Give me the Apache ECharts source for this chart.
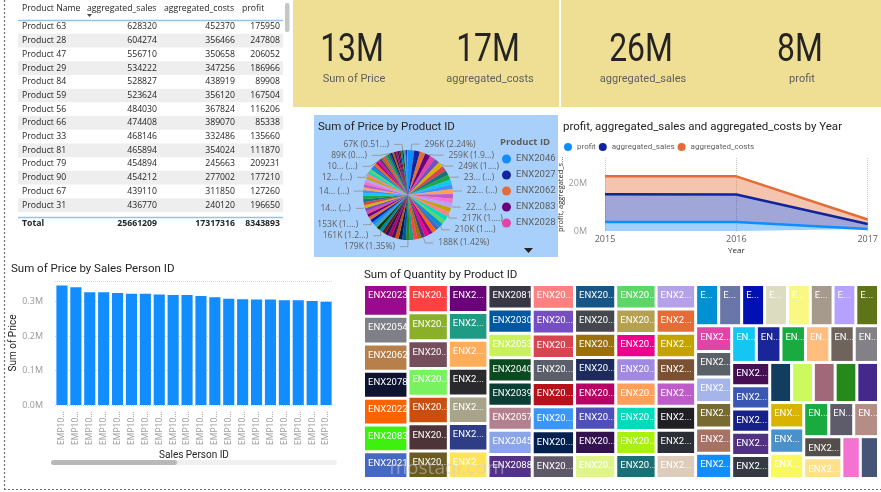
<!DOCTYPE html>
<html>
<head>
<meta charset="utf-8">
<script src="https://cdn.jsdelivr.net/npm/echarts/dist/echarts.min.js"></script>
<style>
html, body { margin: 0; padding: 0; background: #fff; }
#main { width: 881px; height: 492px; }
</style>
</head>
<body>
<div id="main"></div>
<script>
// ---- data ----
const tableHeader = ['Product Name', 'aggregated_sales', 'aggregated_costs', 'profit'];
const tableNames = ['Product 63', 'Product 28', 'Product 47', 'Product 29', 'Product 84', 'Product 59', 'Product 56',
  'Product 66', 'Product 33', 'Product 81', 'Product 79', 'Product 90', 'Product 67', 'Product 31', 'Product 45'];
const tableSales = [628320, 604274, 556710, 534222, 528827, 523624, 484030, 474408, 468146, 465894, 454894, 454212, 439110, 436770, 433640];
const tableCosts = [452370, 356466, 350658, 347256, 438919, 356120, 367824, 389070, 332486, 354024, 245663, 277002, 311850, 240120, 290864];
const tableProfit = [175950, 247808, 206052, 186966, 89908, 167504, 116206, 85338, 135660, 111870, 209231, 177210, 127260, 196650, 142776];
const tableTotal = ['Total', 25661209, 17317316, 8343893];

const kpiValues = ['13M', '17M', '26M', '8M'];
const kpiLabels = ['Sum of Price', 'aggregated_costs', 'aggregated_sales', 'profit'];

const pieNames = ['ENX2046', 'ENX2027', 'ENX2062', 'ENX2083', 'ENX2028', 'ENX2011', 'ENX2090', 'ENX2034', 'ENX2005', 'ENX2071',
  'ENX2018', 'ENX2059', 'ENX2042', 'ENX2003', 'ENX2066', 'ENX2023', 'ENX2095', 'ENX2050', 'ENX2008', 'ENX2077',
  'ENX2031', 'ENX2014', 'ENX2088', 'ENX2054', 'ENX2039', 'ENX2061', 'ENX2000', 'ENX2025', 'ENX2072', 'ENX2044',
  'ENX2016', 'ENX2081', 'ENX2036', 'ENX2069', 'ENX2002', 'ENX2093', 'ENX2057', 'ENX2021', 'ENX2048', 'ENX2010',
  'ENX2085', 'ENX2030', 'ENX2064', 'ENX2007', 'ENX2098', 'ENX2040', 'ENX2019', 'ENX2075', 'ENX2052', 'ENX2001',
  'ENX2086', 'ENX2033', 'ENX2063', 'ENX2012', 'ENX2079', 'ENX2045', 'ENX2026', 'ENX2092', 'ENX2009', 'ENX2068',
  'ENX2037', 'ENX2053', 'ENX2015', 'ENX2099', 'ENX2041', 'ENX2004', 'ENX2074', 'ENX2022', 'ENX2058', 'ENX2029',
  'ENX2096', 'ENX2047', 'ENX2013', 'ENX2067', 'ENX2035', 'ENX2080', 'ENX2006', 'ENX2055', 'ENX2089', 'ENX2020',
  'ENX2078', 'ENX2043', 'ENX2100'];
// Sum of Price per product, in thousands
const piePriceK = [296, 272, 262, 259, 255, 252, 249, 244, 240, 235, 232, 229, 226, 224, 222, 220, 219, 217, 215, 213,
  210, 205, 200, 196, 192, 188, 185, 183, 181, 179, 178, 176, 173, 170, 168, 167, 164, 161, 159, 157,
  155, 153, 151, 150, 149, 148, 147, 145, 144, 143, 142, 141, 139, 138, 135, 132, 130, 128, 127, 125,
  122, 119, 116, 113, 110, 107, 104, 101, 98, 95, 92, 89, 86, 83, 80, 77, 76, 72, 67, 62,
  56, 50, 44];
// data labels as Power BI shows them (truncated)
const pieLabelText = {
  0: '296K (2.24%)', 3: '259K (1.9...)', 6: '249K (1....)', 9: '23... (...)', 12: '22... (...)',
  15: '22... (...)', 17: '217K (1....)', 20: '210K (1....)', 25: '188K (1.42%)', 29: '179K (1.35%)',
  37: '161K (1.2...)', 41: '153K (1....)', 46: '14... (...)', 51: '14... (...)', 59: '12... (...)',
  66: '10... (...)', 71: '89K (0....)', 78: '67K (0.51...)'
};

const years = ['2015', '2016', '2017'];
const profitByYear = [3.8e6, 3.8e6, 0.8e6];
const salesByYear = [11.8e6, 11.7e6, 2.2e6];
const costsByYear = [7.6e6, 7.7e6, 1.9e6];

const salesPersons = ['EMP1015', 'EMP1007', 'EMP1019', 'EMP1003', 'EMP1011', 'EMP1001', 'EMP1016', 'EMP1009', 'EMP1012', 'EMP1005',
  'EMP1018', 'EMP1002', 'EMP1014', 'EMP1020', 'EMP1006', 'EMP1010', 'EMP1004', 'EMP1017', 'EMP1008', 'EMP1013'];
const priceBySalesPerson = [346800, 342000, 327000, 327000, 325000, 323000, 323000, 321000, 319500, 319500,
  316600, 312700, 308800, 307000, 306000, 306000, 304000, 304000, 302000, 300000];

const treemapNames = ['ENX2023', 'ENX2054', 'ENX2062', 'ENX2078', 'ENX2022', 'ENX2083', 'ENX2021',
  'ENX2001', 'ENX2005', 'ENX2010', 'ENX2012', 'ENX2017', 'ENX2019', 'ENX2025',
  'ENX2002', 'ENX2007', 'ENX2011', 'ENX2014', 'ENX2020', 'ENX2026', 'ENX2031',
  'ENX2081', 'ENX2030', 'ENX2053', 'ENX2040', 'ENX2039', 'ENX2057', 'ENX2045', 'ENX2088',
  'ENX2003', 'ENX2008', 'ENX2015', 'ENX2024', 'ENX2029', 'ENX2033', 'ENX2036', 'ENX2041',
  'ENX2004', 'ENX2009', 'ENX2016', 'ENX2027', 'ENX2034', 'ENX2037', 'ENX2042', 'ENX2047',
  'ENX2006', 'ENX2013', 'ENX2018', 'ENX2028', 'ENX2035', 'ENX2043', 'ENX2048', 'ENX2050',
  'ENX2032', 'ENX2038', 'ENX2044', 'ENX2046', 'ENX2049', 'ENX2051', 'ENX2055', 'ENX2058',
  'ENX2000', 'ENX2052', 'ENX2056', 'ENX2059', 'ENX2060', 'ENX2061', 'ENX2063', 'ENX2064',
  'ENX2065', 'ENX2066', 'ENX2067', 'ENX2068', 'ENX2069', 'ENX2070',
  'ENX2071', 'ENX2072', 'ENX2073', 'ENX2074', 'ENX2075', 'ENX2076',
  'ENX2077', 'ENX2079', 'ENX2080', 'ENX2082', 'ENX2084',
  'ENX2085', 'ENX2086', 'ENX2087', 'ENX2089', 'ENX2090',
  'ENX2091', 'ENX2092', 'ENX2093', 'ENX2094', 'ENX2095', 'ENX2096',
  'ENX2097', 'ENX2098', 'ENX2099', 'ENX2100'];
const treemapQuantity = [141, 123, 120, 119.6, 119.3, 118.6, 118.3,
  114, 113, 112, 111, 110.8, 110.6, 110.4,
  110.2, 110.0, 109.8, 109.4, 109.0, 108.6, 108.3,
  108.1, 107.9, 107.6, 107.3, 107.0, 106.8, 106.5, 106.2,
  105, 104, 103, 102.4, 102, 101.4, 101, 100.5,
  100.3, 100.1, 99.9, 99.7, 99.5, 99.3, 99.1, 98.9,
  98.6, 98.3, 98, 97.7, 97.4, 97.1, 96.8, 96.5,
  96.3, 96.1, 95.9, 95.7, 95.5, 95.3, 95.1, 94.9,
  94.7, 94.5, 94.3, 94.1, 93.9, 93.7, 93.5, 93.3,
  92.4, 92, 91.6, 91.3, 91, 90.7,
  90.3, 90, 89.7, 89.4, 89.1, 88.8,
  88.5, 88.3, 88.1, 87.9, 87.7,
  87.4, 87.2, 87, 86.8, 86.6,
  86.2, 85.9, 85.6, 85.2, 84.8, 84.4,
  80, 79, 77, 76];
const treemapColors = ['#9B0A8E', '#7F7F87', '#B7804A', '#0E1330', '#FF6300', '#3EF00E', '#4668C5',
  '#FF4141', '#8AAF28', '#744E5A', '#78F25E', '#C94F0F', '#4E3439', '#6B5A21',
  '#6B007B', '#1F9A85', '#FFAD5B', '#2A2A2E', '#A8A48C', '#2E3D85', '#FFE35A',
  '#3A3745', '#0057A2', '#C9F25A', '#0B4A1E', '#0B3F35', '#B2808E', '#8BA5E8', '#533285',
  '#FF8080', '#744EC2', '#D64550', '#5A5F6A', '#B5121B', '#3C96F8', '#002050', '#5E5868',
  '#165585', '#45474F', '#99700A', '#1A2B5C', '#B60064', '#4E4FB8', '#34124F', '#DFF58C',
  '#5BD667', '#B5A150', '#EC008C', '#A088E3', '#FF9F5A', '#00DBBC', '#A9F20D', '#1A7076',
  '#B5A1EA', '#E66C37', '#C4A200', '#7A5132', '#BE5DC9', '#1F1F24', '#2B2E36', '#DDCBBC',
  '#0091D5', '#6A75A8', '#0010B5', '#DCDCC0', '#F8F882', '#A59A8C', '#B5A1FF', '#5F7418',
  '#E044A7', '#5A6068', '#A5B5EA', '#776B31', '#A77163', '#118DFF',
  '#15C6F4', '#1A2598', '#1AAB40', '#FFBD80', '#6E645C', '#838087',
  '#460F54', '#3A57B5', '#162086', '#523182', '#363A45',
  '#123D5E', '#CCF95E', '#A06878', '#26891C', '#44298B',
  '#D9B300', '#4A91C9', '#F8F860', '#1AAB40', '#5E5B6A', '#B48E86',
  '#544E4B', '#FFE08B', '#F472D0', '#465475'];

const palette = ['#118DFF', '#12239E', '#E66C37', '#6B007B', '#E044A7', '#744EC2', '#D9B300', '#D64550', '#197278', '#1AAB40',
  '#15C6F4', '#4092FF', '#FFA058', '#BE5DC9', '#F472D0', '#B5A1FF', '#C4A200', '#FF8080', '#00DBBC', '#5BD667',
  '#0091D5', '#4668C5', '#FF6300', '#99008A', '#EC008C', '#533285', '#99700A', '#FF4141', '#1F9A85', '#25891C',
  '#0057A2', '#002050', '#C94F0F', '#450F54', '#B60064', '#34124F', '#6A1C06', '#0086AB', '#0B4000', '#44A0AE'];

// ---- layout / styles ----
const TXT = "'Segoe UI', 'Open Sans', 'Noto Sans', sans-serif";
const HEAD = "Roboto, 'Open Sans', sans-serif";
const kpiCenters = [352, 488, 641, 800];
const colLeft = [22, 87, 164, 242];
const colRight = [0, 157, 235, 280];
const rowTop = 27, rowH = 13.7;
// treemap cells too narrow for a label in Power BI
const noLabelCells = [86, 87, 88, 89, 90, 99, 100];

const chart = echarts.init(document.getElementById('main'));

const graphics = [];
// page frame (dotted)
graphics.push({ type: 'line', shape: { x1: 4.5, y1: 0, x2: 4.5, y2: 489 }, style: { stroke: '#707070', lineDash: [2, 2], lineWidth: 1.2 } });
graphics.push({ type: 'line', shape: { x1: 4, y1: 489.5, x2: 881, y2: 489.5 }, style: { stroke: '#707070', lineDash: [2, 2], lineWidth: 1.2 } });

// table
tableHeader.forEach((h, i) => {
  graphics.push({ type: 'text', style: { text: h, x: colLeft[i], y: 9, verticalAlign: 'middle',
    font: '8.7px ' + TXT, fill: '#252423' } });
});
graphics.push({ type: 'polygon', shape: { points: [[87, 14], [92, 14], [89.5, 17]] }, style: { fill: '#444' } });
graphics.push({ type: 'line', shape: { x1: 18, y1: 20.5, x2: 283, y2: 20.5 }, style: { stroke: '#8FC4F5', lineWidth: 1.5 } });
tableNames.forEach((n, r) => {
  const cy = rowTop + r * rowH;
  if (r % 2 === 1) {
    graphics.push({ type: 'rect', shape: { x: 18, y: cy - rowH / 2, width: 265, height: rowH }, style: { fill: '#EEEEEE' } });
  }
  graphics.push({ type: 'text', style: { text: n, x: 22, y: cy, verticalAlign: 'middle', font: '8.7px ' + TXT, fill: '#252423' } });
  [tableSales[r], tableCosts[r], tableProfit[r]].forEach((v, c) => {
    graphics.push({ type: 'text', style: { text: String(v), x: colRight[c + 1], y: cy, align: 'right', verticalAlign: 'middle',
      font: '8.7px ' + TXT, fill: '#252423' } });
  });
});
// cut off the partly scrolled row
graphics.push({ type: 'rect', shape: { x: 18, y: 214, width: 266, height: 20 }, style: { fill: '#fff' } });
graphics.push({ type: 'line', shape: { x1: 18, y1: 217.5, x2: 283, y2: 217.5 }, style: { stroke: '#8FC4F5', lineWidth: 1.5 } });
tableTotal.forEach((v, c) => {
  graphics.push({ type: 'text', style: { text: String(v), x: c === 0 ? 22 : colRight[c], y: 224, align: c === 0 ? 'left' : 'right',
    verticalAlign: 'middle', font: 'bold 8.7px ' + TXT, fill: '#252423' } });
});
graphics.push({ type: 'rect', shape: { x: 285, y: 3, width: 4.5, height: 29, r: 2 }, style: { fill: '#C6C6C6' } });

// KPI cards
graphics.push({ type: 'rect', shape: { x: 293, y: 0, width: 266, height: 107 }, style: { fill: '#EFDF95' } });
graphics.push({ type: 'rect', shape: { x: 561, y: 0, width: 320, height: 107 }, style: { fill: '#EFDF95' } });
kpiValues.forEach((v, i) => {
  graphics.push({ type: 'text', x: kpiCenters[i], y: 51, scaleX: 0.84, style: { text: v, x: 0, y: 0, align: 'center', verticalAlign: 'middle',
    font: '38px ' + HEAD, fill: '#252423' } });
  graphics.push({ type: 'text', style: { text: kpiLabels[i], x: kpiCenters[i] + 2, y: 79, align: 'center', verticalAlign: 'middle',
    font: '11px ' + HEAD, fill: '#605E5C' } });
});

// pie panel
graphics.push({ type: 'rect', shape: { x: 314, y: 115, width: 244, height: 142 }, style: { fill: '#A8D0FA' } });
graphics.push({ type: 'text', style: { text: 'Sum of Price by Product ID', x: 318, y: 127, verticalAlign: 'middle', font: '11.5px ' + HEAD, fill: '#252423' } });
graphics.push({ type: 'text', style: { text: 'Product ID', x: 500, y: 142, verticalAlign: 'middle', font: 'bold 9.5px ' + TXT, fill: '#605E5C' } });
graphics.push({ type: 'polygon', shape: { points: [[524, 248], [533, 248], [528.5, 253]] }, style: { fill: '#252423' } });

// titles
graphics.push({ type: 'text', style: { text: 'profit, aggregated_sales and aggregated_costs by Year', x: 563, y: 127, verticalAlign: 'middle',
  font: '11.5px ' + HEAD, fill: '#252423' } });
graphics.push({ type: 'text', style: { text: 'Sum of Price by Sales Person ID', x: 11, y: 269, verticalAlign: 'middle', font: '11.5px ' + HEAD, fill: '#252423' } });
graphics.push({ type: 'text', style: { text: 'Sum of Quantity by Product ID', x: 364, y: 275, verticalAlign: 'middle', font: '11.5px ' + HEAD, fill: '#252423' } });

// bar chart scrollbar
graphics.push({ type: 'rect', shape: { x: 51, y: 460, width: 286, height: 5, r: 2.5 }, style: { fill: '#F0F0F0' } });
graphics.push({ type: 'rect', shape: { x: 51, y: 460, width: 126, height: 5, r: 2.5 }, style: { fill: '#B8B8B8' } });

// watermark on the treemap
graphics.push({ type: 'text', z: 100, style: { text: 'mostaql.com', x: 447, y: 469, align: 'center', verticalAlign: 'middle',
  font: '19px ' + TXT, fill: 'rgba(205,205,215,0.5)' } });

const option = {
  animation: false,
  color: palette,
  textStyle: { fontFamily: TXT },
  graphic: graphics,
  legend: [
    {
      data: pieNames.slice(0, 5),
      orient: 'vertical', left: 497, top: 149, icon: 'circle', itemWidth: 9, itemHeight: 9, itemGap: 6,
      textStyle: { fontSize: 9.5, color: '#605E5C', fontFamily: HEAD },
      selectedMode: false
    },
    {
      data: ['profit', 'aggregated_sales', 'aggregated_costs'],
      left: 559, top: 138, icon: 'circle', itemWidth: 8, itemHeight: 8, itemGap: 3,
      textStyle: { fontSize: 8, color: '#605E5C', fontFamily: HEAD },
      selectedMode: false
    }
  ],
  grid: [
    { left: 55, right: 548, top: 281, bottom: 87 },
    { left: 605, right: 12, top: 158, bottom: 261 }
  ],
  xAxis: [
    {
      gridIndex: 0, type: 'category', data: salesPersons,
      axisLine: { show: false }, axisTick: { show: false },
      axisLabel: { rotate: 90, fontSize: 8.5, color: '#999', margin: 6, formatter: v => v.slice(0, 5) + '...' },
      name: 'Sales Person ID', nameLocation: 'middle', nameGap: 45,
      nameTextStyle: { fontSize: 10, color: '#252423', fontFamily: HEAD }
    },
    {
      gridIndex: 1, type: 'category', data: years, boundaryGap: false,
      axisLine: { show: false }, axisTick: { show: false },
      axisLabel: { fontSize: 9, color: '#605E5C', margin: 4 },
      splitLine: { show: true, lineStyle: { type: 'dotted', color: '#C8C8C8' } },
      name: 'Year', nameLocation: 'middle', nameGap: 16,
      nameTextStyle: { fontSize: 8, color: '#252423' }
    }
  ],
  yAxis: [
    {
      gridIndex: 0, type: 'value', min: 0, max: 360000, interval: 100000,
      axisLine: { show: false }, axisTick: { show: false },
      axisLabel: { fontSize: 9, color: '#999', margin: 12, formatter: v => (v % 100000 === 0 ? (v / 1e6).toFixed(1) + 'M' : '') },
      splitLine: { lineStyle: { type: 'dotted', color: '#D8D8D8' } },
      name: 'Sum of Price', nameLocation: 'middle', nameGap: 34,
      nameTextStyle: { fontSize: 10, color: '#252423', fontFamily: HEAD }
    },
    {
      gridIndex: 1, type: 'value', min: 0, max: 31e6, interval: 20e6,
      axisLine: { show: false }, axisTick: { show: false },
      axisLabel: { fontSize: 9, color: '#999', margin: 18, formatter: v => (v % 20e6 === 0 ? v / 1e6 + 'M' : '') },
      splitLine: { show: false },
      name: 'profit, aggregated_s...', nameLocation: 'middle', nameGap: 31,
      nameTextStyle: { fontSize: 7.5, color: '#252423' }
    }
  ],
  series: [
    {
      type: 'bar', xAxisIndex: 0, yAxisIndex: 0, data: priceBySalesPerson,
      barCategoryGap: '20%', itemStyle: { color: '#118DFF' }
    },
    {
      name: 'profit', type: 'line', xAxisIndex: 1, yAxisIndex: 1, stack: 'y', data: profitByYear,
      showSymbol: false, color: '#118DFF', lineStyle: { width: 2.5 }, areaStyle: { opacity: 0.4 }
    },
    {
      name: 'aggregated_sales', type: 'line', xAxisIndex: 1, yAxisIndex: 1, stack: 'y', data: salesByYear,
      showSymbol: false, color: '#12239E', lineStyle: { width: 2.5 }, areaStyle: { opacity: 0.4 }
    },
    {
      name: 'aggregated_costs', type: 'line', xAxisIndex: 1, yAxisIndex: 1, stack: 'y', data: costsByYear,
      showSymbol: false, color: '#E66C37', lineStyle: { width: 2.5 }, areaStyle: { opacity: 0.4 }
    },
    {
      type: 'pie', center: [408, 195], radius: 45, startAngle: 90, clockwise: true,
      avoidLabelOverlap: true,
      itemStyle: { borderWidth: 0 },
      data: pieNames.map((n, i) => ({
        name: n, value: piePriceK[i] * 1000,
        label: { show: pieLabelText[i] !== undefined },
        labelLine: { show: pieLabelText[i] !== undefined }
      })),
      label: { formatter: p => pieLabelText[p.dataIndex] || '', fontSize: 8.5, color: '#605E5C', fontFamily: TXT },
      labelLine: { length: 6, length2: 8, lineStyle: { color: '#9A9A9A', width: 1 } }
    },
    {
      type: 'treemap', left: 363, top: 284, width: 516, height: 195,
      roam: false, nodeClick: false, breadcrumb: { show: false },
      itemStyle: { borderColor: '#fff', borderWidth: 1, gapWidth: 1 },
      label: { show: true, position: 'insideTopLeft', distance: 3, color: '#fff', fontSize: 9.5, fontFamily: 'Roboto, sans-serif',
        overflow: 'truncate', ellipsis: '...', padding: [2, 0, 0, 0] },
      data: treemapNames.map((n, i) => ({
        name: n, value: treemapQuantity[i], itemStyle: { color: treemapColors[i] },
        label: { show: noLabelCells.indexOf(i) < 0 }
      }))
    }
  ]
};
chart.setOption(option);
</script>
</body>
</html>
